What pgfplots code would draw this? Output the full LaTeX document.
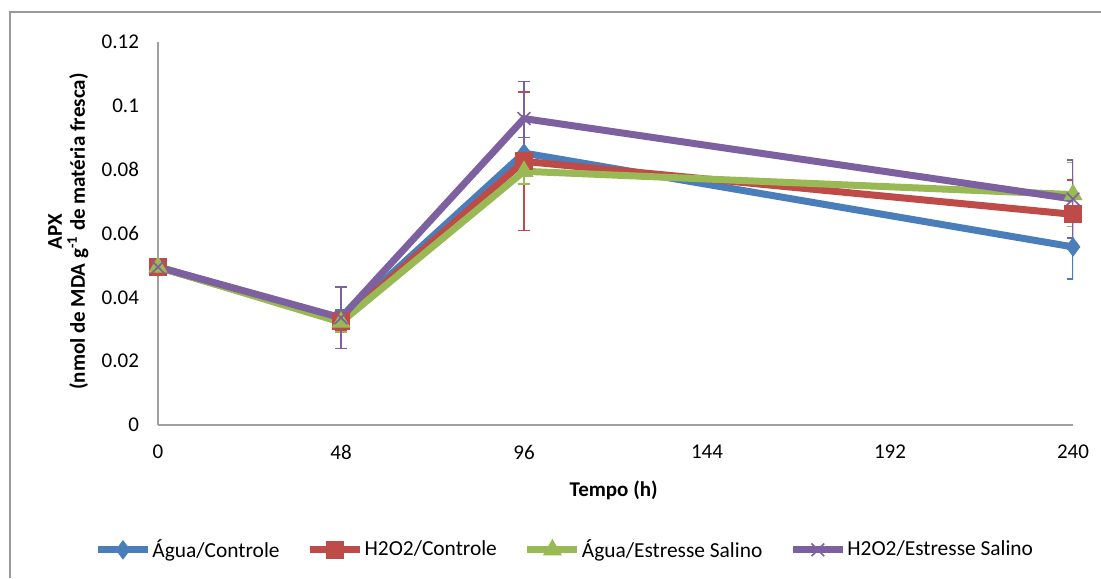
\documentclass[border=0pt]{standalone}
\usepackage{pgfplots}
\pgfplotsset{compat=1.18}
\usepackage{fontspec}
\setmainfont{Carlito}
\definecolor{cblue}{HTML}{4A7EBB}
\definecolor{cred}{HTML}{BE4B48}
\definecolor{cgreen}{HTML}{98B954}
\definecolor{cpurple}{HTML}{7D60A0}
\definecolor{axgray}{HTML}{A0A0A0}
\definecolor{framegray}{HTML}{9A9A9A}
\begin{document}
\begin{tikzpicture}
\useasboundingbox (0,0) rectangle (550.5pt,289pt);
\draw[framegray, line width=0.6pt] (5pt,0pt) -- (5pt,283pt) -- (550.5pt,283pt);
\begin{axis}[
  at={(79pt,76.5pt)}, anchor=south west,
  scale only axis, width=457.5pt, height=191.5pt,
  xmin=0, xmax=240, ymin=0, ymax=0.12,
  axis lines*=left,
  axis line style={axgray, line width=0.9pt, -},
  major tick length=0pt,
  xtick={0,48,96,144,192,240},
  ytick={0,0.02,0.04,0.06,0.08,0.1,0.12},
  yticklabels={0,0.02,0.04,0.06,0.08,0.1,0.12},
  /pgf/number format/assume math mode=true,
  ticklabel style={font=\fontsize{10.5}{12}\selectfont, text=black},
  xticklabel style={yshift=-6.5pt},
  yticklabel style={xshift=-6pt},
  xlabel={\textbf{Tempo (h)}},
  xlabel style={font=\fontsize{10.5}{12}\selectfont, at={(axis description cs:0.498,-0.17)}, anchor=center},
  ylabel={\textbf{APX}\\\textbf{(nmol de MDA g\textsuperscript{-1} de matéria fresca)}},
  ylabel style={font=\fontsize{10.5}{11.5}\selectfont, align=center, at={(axis description cs:-0.098,0.505)}, anchor=center},
  legend style={draw=none, at={(axis description cs:0.444,-0.326)}, anchor=center,
    legend columns=4, font=\fontsize{10.7}{12}\selectfont,
    /tikz/every even column/.append style={column sep=13pt},
    nodes={inner sep=0.5pt}},
  legend cell align=left,
  legend image code/.code={\draw[#1, mark repeat=2, mark phase=2] plot coordinates {(0pt,0pt)(12.5pt,0pt)(25pt,0pt)};},
  error bars/y dir=both, error bars/y explicit,
  error bars/error mark options={rotate=90, mark size=3pt, line width=0.75pt},
]
\addplot[cblue, line width=3.5pt, mark=diamond*, mark size=4.5pt, mark options={solid, line width=0.5pt, fill=cblue},
  error bars/error bar style={line width=0.75pt, cblue}]
  coordinates {(0,0.0495) +- (0,0.002) (48,0.0330) +- (0,0.003) (96,0.0852) +- (0,0.0048) (240,0.0558) +- (0,0.0101)};
\addlegendentry{Água/Controle}
\addplot[cred, line width=3.5pt, mark=square*, mark size=4.2pt, mark options={solid, line width=0.5pt, fill=cred},
  error bars/error bar style={line width=0.75pt, cred}]
  coordinates {(0,0.0495) +- (0,0.002) (48,0.0325) +- (0,0.003) (96,0.0826) +- (0,0.0217) (240,0.0660) +- (0,0.0108)};
\addlegendentry{H2O2/Controle}
\addplot[cgreen, line width=3.5pt, mark=triangle*, mark size=5pt, mark options={solid, line width=0.5pt, fill=cgreen},
  error bars/error bar style={line width=0.75pt, cgreen}]
  coordinates {(0,0.0495) +- (0,0.002) (48,0.0322) +- (0,0.003) (96,0.0795) +- (0,0.004) (240,0.0722) +- (0,0.0100)};
\addlegendentry{Água/Estresse Salino}
\addplot[cpurple, line width=3.5pt, mark=x, mark size=4.5pt, mark options={solid, line width=0.8pt},
  error bars/error bar style={line width=0.75pt, cpurple}]
  coordinates {(0,0.0495) +- (0,0.002) (48,0.0336) +- (0,0.0096) (96,0.0960) +- (0,0.0117) (240,0.0708) +- (0,0.0122)};
\addlegendentry{H2O2/Estresse Salino}
\end{axis}
\end{tikzpicture}
\end{document}
